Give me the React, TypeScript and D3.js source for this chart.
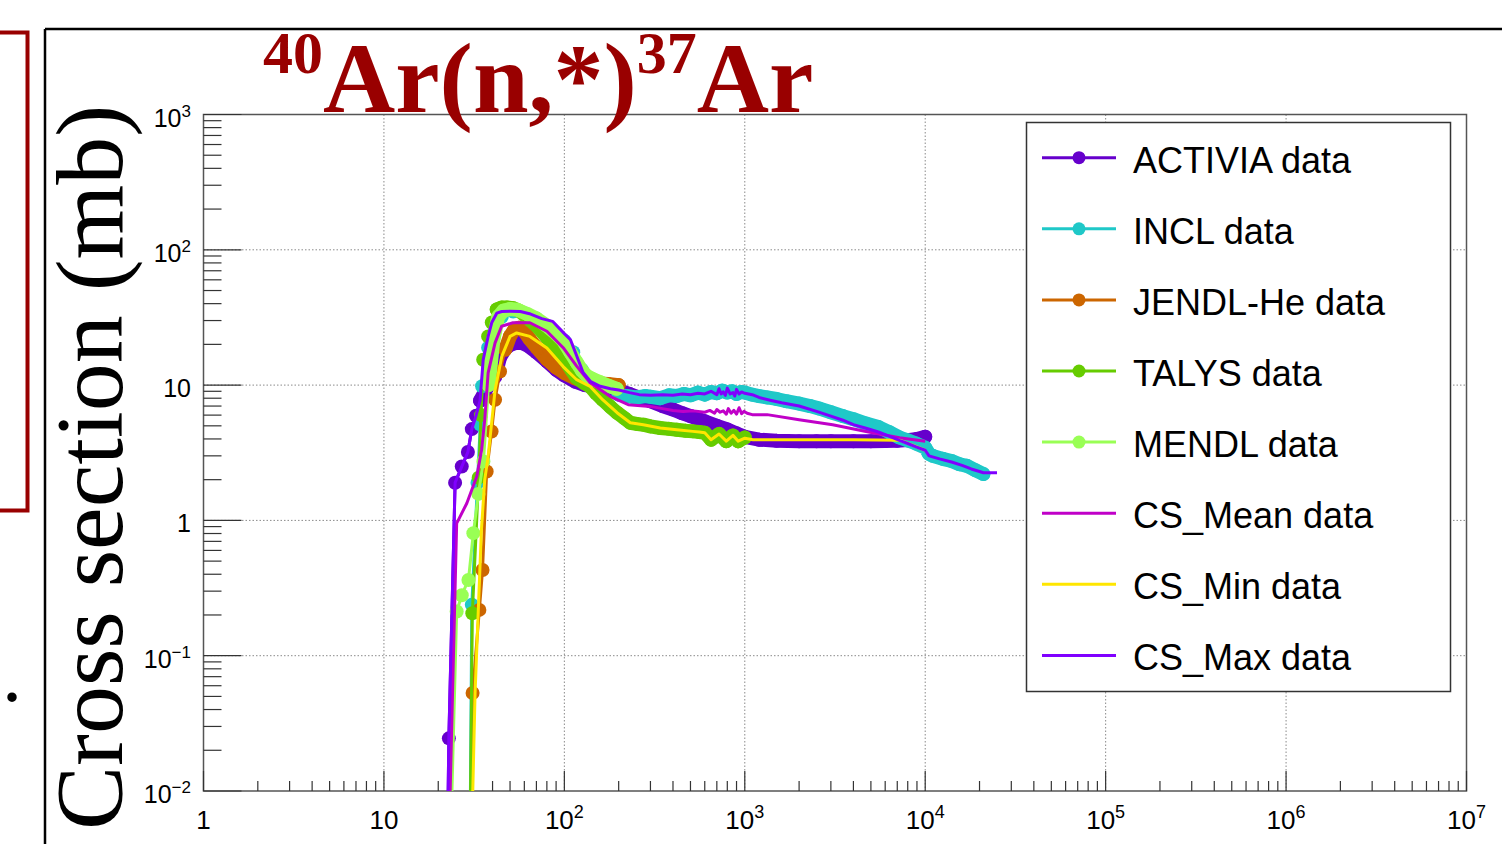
import React, { useLayoutEffect } from "react";
import * as d3 from "d3";

// ---------------- data (energy in MeV, cross section in mb) ----------------
const activiaE = [22.5, 22.9, 24.8, 27.0, 29.2, 30.7, 32.4, 34.1, 36.4, 38.7, 41.3, 44, 47, 50, 54, 58, 63, 70, 80, 90, 100, 115, 130, 150, 175, 200, 230, 260, 300, 350, 400, 450, 500, 600, 700, 800, 900, 1000, 1200, 1500, 2000, 2500, 3000, 4000, 5000, 6000, 7000, 8000, 9000, 10000];
const activiaXS = [0.004, 0.0245, 1.9, 2.5, 3.2, 4.73, 5.94, 7.67, 9.0, 10.5, 11.5, 16.0, 18.5, 19.8, 20.5, 20.5, 19.5, 17.5, 15.0, 13.0, 11.8, 10.6, 10.0, 9.7, 9.4, 9.2, 8.6, 8.1, 7.6, 7.0, 6.6, 6.2, 5.9, 5.4, 5.0, 4.7, 4.4, 4.15, 3.95, 3.88, 3.85, 3.85, 3.85, 3.85, 3.85, 3.86, 3.88, 3.92, 4.0, 4.15];

const inclE = [30.0, 30.7, 33.0, 34.2, 35.0, 37.8, 41, 45, 52, 60, 70, 80, 90, 100, 112, 125, 140, 160, 180, 200, 220, 250, 280, 300, 340, 380, 420, 460, 500, 550, 600, 650, 700, 750, 800, 850, 900, 950, 1000, 1100, 1200, 1330, 1500, 1700, 2000, 2300, 2600, 3000, 3500, 4000, 4700, 5500, 6300, 7200, 8000, 8900, 10000, 10500, 11000, 12500, 14000, 15500, 17000, 19000, 21000];
const inclXS = [0.004, 0.238, 1.9, 5.1, 9.8, 18.9, 27, 32, 35, 34, 31, 27.4, 24, 21.3, 17.5, 13.0, 11.2, 10.3, 9.7, 8.5, 8.3, 8.1, 8.3, 8.2, 8.0, 8.4, 8.3, 8.6, 8.4, 8.8, 8.5, 8.9, 8.7, 9.1, 8.8, 9.0, 8.6, 8.9, 8.8, 8.5, 8.3, 8.1, 7.9, 7.6, 7.3, 7.0, 6.7, 6.3, 5.9, 5.6, 5.2, 4.9, 4.5, 4.1, 3.9, 3.7, 3.45, 3.1, 3.0, 2.85, 2.75, 2.6, 2.53, 2.35, 2.2];

const jendlE = [30.5, 31.0, 33.8, 35.2, 37.1, 39.5, 41.3, 44, 47, 50, 53, 56, 60, 64, 70, 80, 90, 100, 115, 130, 150, 175, 200];
const jendlXS = [0.004, 0.053, 0.218, 0.43, 2.3, 4.54, 7.8, 12.6, 18.3, 23, 26, 26.5, 25, 22, 19, 15.5, 13.5, 12.3, 11.2, 10.6, 10.3, 10.2, 10.0];

const talysE = [30.0, 30.9, 33.5, 34.5, 35.5, 37.8, 39.6, 42.2, 45, 48, 52, 57, 65, 72, 80, 90, 100, 110, 117, 128, 139, 150, 163, 180, 196, 215, 232, 255, 274, 300, 340, 380, 420, 470, 515, 560, 600, 650, 720, 790, 860, 920, 1000];
const talysXS = [0.004, 0.206, 2.07, 6.0, 15.4, 22.9, 29, 36.2, 37.5, 37.5, 37, 35, 30, 26.5, 22.5, 18.5, 15.5, 12.8, 11.3, 10.4, 9.77, 8.7, 7.8, 6.9, 6.25, 5.7, 5.27, 5.15, 5.1, 4.95, 4.82, 4.75, 4.68, 4.6, 4.55, 4.5, 4.45, 3.95, 4.35, 3.85, 4.25, 3.85, 4.1];

const mendlE = [23.5, 25.3, 27.0, 29.4, 31.3, 33.4, 35.6, 38, 40.5, 43, 46, 50, 55, 62, 70, 80, 90, 98.5, 108, 117, 125, 133, 145, 158, 175, 195];
const mendlXS = [0.005, 0.212, 0.28, 0.363, 0.805, 1.57, 2.73, 10, 22, 32, 35.5, 36.5, 36, 33.6, 31, 27.4, 24, 21.3, 17.5, 14.7, 12.8, 11.7, 11.0, 10.5, 9.9, 9.4];

const csMeanE = [22.9, 25.3, 28.8, 32.7, 34.8, 36.2, 37.8, 41.3, 44.9, 51.9, 64.4, 80, 98.5, 117, 139, 179, 226, 299, 350, 400, 455, 520, 600, 640, 680, 700, 730, 760, 790, 810, 840, 870, 900, 930, 960, 990, 1030, 1100, 1330, 2000, 3070, 4700, 7200, 10000];
const csMeanXS = [0.004, 0.95, 1.34, 2.11, 3.33, 5.55, 12.3, 20.5, 27.2, 28.9, 28.9, 25, 18.9, 13.8, 10.4, 8.27, 7.17, 6.96, 6.7, 6.5, 6.39, 6.45, 6.3, 6.5, 6.2, 6.6, 6.3, 6.45, 6.1, 6.7, 6.2, 6.5, 6.1, 6.8, 6.15, 6.4, 6.2, 6.05, 6.05, 5.55, 5.1, 4.54, 4.08, 3.84];

const csMinE = [30.8, 32.0, 34.7, 36.2, 37.8, 41.3, 45, 50, 54.4, 64.4, 80, 98.5, 117, 139, 163, 196, 232, 274, 340, 420, 515, 560, 600, 650, 720, 790, 860, 920, 1000, 1110, 2000, 4000, 7200, 8500, 10000];
const csMinXS = [0.006, 0.053, 0.85, 2.0, 2.97, 9.2, 16.3, 22.9, 24.3, 22.9, 18.8, 13.7, 10.96, 9.77, 7.8, 6.25, 5.27, 5.1, 4.82, 4.68, 4.55, 4.5, 4.45, 3.95, 4.35, 3.85, 4.25, 3.85, 4.05, 3.95, 3.95, 3.95, 3.92, 3.6, 3.3];

const csMaxE = [22.5, 22.9, 24.8, 27.0, 29.2, 30.7, 32.4, 34.1, 35.5, 37.8, 39.6, 42.2, 45, 50, 57, 65, 75, 86, 100, 108, 118, 127, 140, 158, 180, 200, 230, 260, 300, 350, 400, 450, 500, 550, 600, 650, 700, 720, 740, 760, 780, 800, 830, 860, 880, 900, 930, 960, 1000, 1100, 1200, 1400, 1600, 2000, 2500, 3000, 3500, 4000, 4700, 5500, 6300, 7200, 8000, 8900, 10000, 10500, 12000, 14000, 16000, 18000, 20000, 21000, 25000];
const csMaxXS = [0.004, 0.0245, 1.9, 2.5, 3.2, 4.73, 5.94, 7.67, 15.4, 22.9, 29, 34, 35, 35.2, 35, 33.5, 31, 29.6, 24, 21.7, 16, 12.4, 10.6, 9.8, 9.4, 9.2, 8.8, 8.5, 8.4, 8.5, 8.4, 8.6, 8.5, 8.7, 8.6, 9.0, 8.5, 9.4, 8.6, 8.9, 8.4, 9.5, 8.6, 8.8, 8.3, 9.3, 8.6, 8.9, 8.7, 8.5, 8.1, 7.7, 7.4, 7.0, 6.4, 5.9, 5.5, 5.1, 4.8, 4.5, 4.2, 3.9, 3.7, 3.5, 3.3, 3.0, 2.85, 2.7, 2.55, 2.4, 2.3, 2.25, 2.25];

const seriesNames = ["ACTIVIA data", "INCL data", "JENDL-He data", "TALYS data", "MENDL data", "CS_Mean data", "CS_Min data", "CS_Max data"];
const xDecadeExps = [0, 1, 2, 3, 4, 5, 6, 7];
const yDecadeExps = [-2, -1, 0, 1, 2, 3];
const minorMultipliers = [2, 3, 4, 5, 6, 7, 8, 9];
const titleParts = ["40", "Ar(n,*)", "37", "Ar"];
const yTitle = "Cross section (mb)";

// ---------------- styles ----------------
const styles = [
  { color: "#6600cc", marker: true, denseFrom: 34 },
  { color: "#1fc8c8", marker: true, denseFrom: 200 },
  { color: "#cc6600", marker: true, denseFrom: 47 },
  { color: "#66cc00", marker: true, denseFrom: 42 },
  { color: "#99ff55", marker: true, denseFrom: 38 },
  { color: "#c000c8", marker: false, denseFrom: Infinity },
  { color: "#ffe600", marker: false, denseFrom: Infinity },
  { color: "#8000ff", marker: false, denseFrom: Infinity },
];
const seriesData = [
  [activiaE, activiaXS],
  [inclE, inclXS],
  [jendlE, jendlXS],
  [talysE, talysXS],
  [mendlE, mendlXS],
  [csMeanE, csMeanXS],
  [csMinE, csMinXS],
  [csMaxE, csMaxXS],
];

const SANS = "'Liberation Sans', Arial, Helvetica, sans-serif";
const SERIF = "'Liberation Serif', 'Times New Roman', Times, serif";
const R = 7;

function expLabel(e: number) {
  if (e === 0) return { base: "1", sup: "" };
  if (e === 1) return { base: "10", sup: "" };
  return { base: "10", sup: e < 0 ? "\u2212" + Math.abs(e) : String(e) };
}

export default function App() {
  useLayoutEffect(() => {
    document.body.style.margin = "0";
  }, []);

  const L = 203.5, Rr = 1466.5, T = 114.5, B = 791;
  const x = d3.scaleLog().domain([1, 1e7]).range([L, Rr]);
  const y = d3.scaleLog().domain([0.01, 1000]).range([B, T]);
  const line = d3
    .line<[number, number]>()
    .x((d) => x(d[0]))
    .y((d) => y(d[1]));

  const xMinor: number[] = [];
  xDecadeExps.slice(0, -1).forEach((e) => minorMultipliers.forEach((m) => xMinor.push(m * Math.pow(10, e))));
  const yMinor: number[] = [];
  yDecadeExps.slice(0, -1).forEach((e) => minorMultipliers.forEach((m) => yMinor.push(m * Math.pow(10, e))));

  const legendX = 1026.5, legendY = 122.5, legendW = 424, legendH = 569;
  const rowY0 = 157.7, rowDy = 71.1;

  return (
    <svg width={1502} height={844} style={{ position: "fixed", left: 0, top: 0, background: "#fff" }}>
      <rect x={0} y={0} width={1502} height={844} fill="#fff" />
      <defs>
        <clipPath id="plotclip">
          <rect x={L} y={T} width={Rr - L} height={B - T} />
        </clipPath>
      </defs>

      {/* outer slide decorations */}
      <rect x={-20} y={32.5} width={47.5} height={478} fill="none" stroke="#990000" strokeWidth={4} />
      <line x1={45} y1={29} x2={45} y2={844} stroke="#000" strokeWidth={2.5} />
      <line x1={45} y1={29} x2={1502} y2={29} stroke="#000" strokeWidth={2.5} />
      <text x={2} y={701} fontFamily={SERIF} fontSize={80} fill="#000">.</text>

      {/* grid */}
      {xDecadeExps.slice(1, -1).map((e) => (
        <line key={"gx" + e} x1={x(Math.pow(10, e))} x2={x(Math.pow(10, e))} y1={T} y2={B}
          stroke="#8a8a8a" strokeWidth={1} strokeDasharray="1.5 2" />
      ))}
      {yDecadeExps.slice(1, -1).map((e) => (
        <line key={"gy" + e} y1={y(Math.pow(10, e))} y2={y(Math.pow(10, e))} x1={L} x2={Rr}
          stroke="#8a8a8a" strokeWidth={1} strokeDasharray="1.5 2" />
      ))}

      {/* frame */}
      <rect x={L} y={T} width={Rr - L} height={B - T} fill="none" stroke="#555" strokeWidth={1.5} />

      {/* ticks */}
      {xDecadeExps.map((e) => (
        <line key={"xt" + e} x1={x(Math.pow(10, e))} x2={x(Math.pow(10, e))} y1={B} y2={B - 20} stroke="#333" strokeWidth={1.2} />
      ))}
      {xMinor.map((v, i) => (
        <line key={"xm" + i} x1={x(v)} x2={x(v)} y1={B} y2={B - 10} stroke="#333" strokeWidth={1.2} />
      ))}
      {yDecadeExps.map((e) => (
        <line key={"yt" + e} y1={y(Math.pow(10, e))} y2={y(Math.pow(10, e))} x1={L} x2={L + 38} stroke="#333" strokeWidth={1.2} />
      ))}
      {yMinor.map((v, i) => (
        <line key={"ym" + i} y1={y(v)} y2={y(v)} x1={L} x2={L + 18} stroke="#333" strokeWidth={1.2} />
      ))}

      {/* tick labels */}
      {xDecadeExps.map((e) => {
        const lb = expLabel(e);
        return (
          <text key={"xl" + e} x={x(Math.pow(10, e))} y={829} textAnchor="middle" fontFamily={SANS} fontSize={26} fill="#000">
            <tspan>{lb.base}</tspan>
            {lb.sup && <tspan fontSize={18} dy={-11}>{lb.sup}</tspan>}
          </text>
        );
      })}
      {yDecadeExps.map((e) => {
        const lb = expLabel(e);
        return (
          <text key={"yl" + e} x={191} y={y(Math.pow(10, e)) + 12} textAnchor="end" fontFamily={SANS} fontSize={25} fill="#000">
            <tspan>{lb.base}</tspan>
            {lb.sup && <tspan fontSize={17} dy={-10}>{lb.sup}</tspan>}
          </text>
        );
      })}

      {/* data */}
      <g clipPath="url(#plotclip)">
        {seriesData.map(([E, XS], si) => {
          const st = styles[si];
          const pts: [number, number][] = E.map((e, i) => [e, XS[i]]);
          const dense = pts.filter((p) => p[0] >= st.denseFrom);
          return (
            <g key={"s" + si}>
              {dense.length > 1 && (
                <path d={line(dense) || ""} fill="none" stroke={st.color} strokeWidth={2 * R}
                  strokeLinecap="round" strokeLinejoin="round" />
              )}
              <path d={line(pts) || ""} fill="none" stroke={st.color} strokeWidth={3} strokeLinejoin="round" />
              {st.marker && pts.map((p, i) => (
                <circle key={i} cx={x(p[0])} cy={y(p[1])} r={R} fill={st.color} />
              ))}
            </g>
          );
        })}
      </g>

      {/* legend */}
      <rect x={legendX} y={legendY} width={legendW} height={legendH} fill="#fff" stroke="#333" strokeWidth={1.5} />
      {seriesNames.map((name, i) => {
        const ry = rowY0 + i * rowDy;
        const st = styles[i];
        return (
          <g key={"lg" + i}>
            <line x1={1042} x2={1116} y1={ry} y2={ry} stroke={st.color} strokeWidth={3} />
            {st.marker && <circle cx={1079} cy={ry} r={6.5} fill={st.color} />}
            <text x={1133} y={ry + 15} fontFamily={SANS} fontSize={36} fill="#000">{name}</text>
          </g>
        );
      })}

      {/* title */}
      <text x={263} y={112} fill="#990000" fontFamily={SERIF} fontWeight="bold">
        <tspan fontSize={60} dy={-39}>{titleParts[0]}</tspan>
        <tspan fontSize={100} dy={39}>{titleParts[1]}</tspan>
        <tspan fontSize={60} dy={-39}>{titleParts[2]}</tspan>
        <tspan fontSize={100} dy={39}>{titleParts[3]}</tspan>
      </text>

      {/* y title */}
      <text transform="translate(122,830) rotate(-90)" fontFamily={SERIF} fontSize={96} fill="#000">{yTitle}</text>
    </svg>
  );
}
